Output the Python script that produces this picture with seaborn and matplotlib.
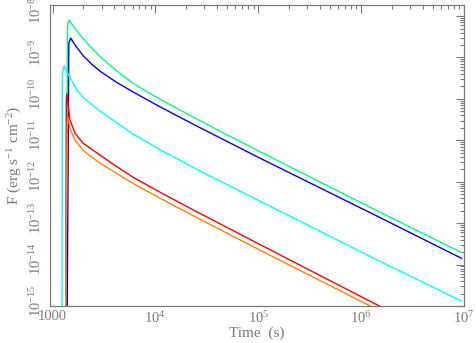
import numpy as np
import pandas as pd
import matplotlib
matplotlib.use("Agg")
import matplotlib.pyplot as plt
import matplotlib.ticker as mticker
import matplotlib.transforms as mtransforms
import seaborn as sns

# light curves: time (s) and flux F (erg s^-1 cm^-2)
green_t = [1340, 1400, 1446, 1654, 1850, 2163, 2800, 3616, 4700, 6047, 8200,
           11060, 20000, 50000, 1.5e5, 1.512e6, 9.5e6]
green_f = [1e-16, 6.0e-9, 8.0e-9, 5.0e-9, 3.48e-9, 2.23e-9, 1.14e-9, 6.55e-10,
           3.82e-10, 2.41e-10, 1.51e-10, 9.9e-11, 4.45e-11, 1.35e-11, 3.35e-12,
           1.85e-13, 1.94e-14]

blue_t = [1383, 1440, 1502, 1700, 1978, 2400, 2893, 4200, 6047, 11060, 25000,
          1e5, 1.512e6, 9.5e6]
blue_f = [1e-16, 2.2e-9, 2.94e-9, 1.82e-9, 1.12e-9, 6.92e-10, 4.68e-10,
          2.51e-10, 1.48e-10, 6.46e-11, 2.24e-11, 3.89e-12, 1.38e-13, 1.41e-14]

cyan_t = [1237, 1245, 1270, 1302, 1383, 1729, 2000, 2313, 2900, 3616, 6000,
          11060, 30000, 1e5, 1.512e6, 9.5e6]
cyan_f = [1e-16, 3.0e-10, 5.6e-10, 6.2e-10, 4.44e-10, 1.63e-10, 1.07e-10,
          7.92e-11, 5.05e-11, 3.44e-11, 1.45e-11, 5.97e-12, 1.6e-12, 3.56e-13,
          1.21e-14, 1.31e-15]

red_t = [1345, 1360, 1374, 1479, 1654, 1978, 2313, 2893, 4200, 6047, 11060,
         25000, 1e5, 1.513e6, 2e6]
red_f = [1e-16, 9e-11, 1.31e-10, 3.08e-11, 1.49e-11, 8.55e-12, 6.5e-12,
         4.4e-12, 2.33e-12, 1.29e-12, 5.61e-13, 1.91e-13, 3.2e-14, 9.9e-16, 7e-16]

orange_t = [1330, 1390, 1405, 1479, 1654, 1978, 2313, 2893, 6047, 11060, 25000,
            1e5, 1.236e6, 2e6]
orange_f = [1e-16, 2.5e-11, 3.85e-11, 1.9e-11, 1.01e-11, 5.8e-12, 4.2e-12,
            2.82e-12, 9.1e-13, 4.02e-13, 1.38e-13, 2.34e-14, 9.9e-16, 5e-16]

curve_names = ["green", "blue", "cyan", "red", "orange"]
palette = {"green": "#00ff80", "blue": "#0000ff", "cyan": "#00ffff",
           "red": "#ff0000", "orange": "#ff8000"}

curves = {"green": (green_t, green_f), "blue": (blue_t, blue_f),
          "cyan": (cyan_t, cyan_f), "red": (red_t, red_f),
          "orange": (orange_t, orange_f)}
df = pd.concat([pd.DataFrame({"time": t, "flux": f, "curve": name})
                for name, (t, f) in curves.items()], ignore_index=True)

sns.set_style("white")
plt.rcParams["font.family"] = ["Liberation Serif", "DejaVu Serif"]
plt.rcParams["mathtext.fontset"] = "custom"
plt.rcParams["mathtext.rm"] = "Liberation Serif"
plt.rcParams["mathtext.it"] = "Liberation Serif"

grey = "#7a7a7a"

fig = plt.figure(figsize=(4.77, 3.43), dpi=100)
ax = fig.add_axes([50 / 477, 37 / 343, 414 / 477, 301 / 343])

sns.lineplot(data=df, x="time", y="flux", hue="curve", hue_order=curve_names,
             palette=palette, sort=False, estimator=None, legend=False,
             linewidth=1.0, ax=ax)

ax.set_xscale("log")
ax.set_yscale("log")
ax.set_xlim(945, 1e7)
ax.set_ylim(1e-15, 1.85e-8)

ax.xaxis.set_major_locator(mticker.LogLocator(base=10))
ax.yaxis.set_major_locator(mticker.LogLocator(base=10))
ax.xaxis.set_minor_locator(mticker.LogLocator(base=10, subs=np.arange(2, 10)))
ax.yaxis.set_minor_locator(mticker.LogLocator(base=10, subs=np.arange(2, 10), numticks=20))
ax.xaxis.set_minor_formatter(mticker.NullFormatter())
ax.yaxis.set_minor_formatter(mticker.NullFormatter())


def xfmt(v, pos):
    n = int(round(np.log10(v)))
    return "1000" if n == 3 else r"$10^{%d}$" % n


ax.xaxis.set_major_formatter(mticker.FuncFormatter(xfmt))
ax.yaxis.set_major_formatter(mticker.FuncFormatter(lambda v, p: r"$10^{%d}$" % int(round(np.log10(v)))))

ax.tick_params(which="both", direction="in", top=True, right=True,
               color=grey, labelcolor=grey, labelsize=10.5, width=0.8)
ax.tick_params(which="major", length=6)
ax.tick_params(which="minor", length=3)
ax.tick_params(axis="x", pad=3)
ax.tick_params(axis="y", pad=4)

# y labels run bottom-to-top and sit a little above their ticks
shift = mtransforms.ScaledTranslation(0, 4 / 72, fig.dpi_scale_trans)
for lab in ax.get_yticklabels():
    lab.set_rotation(90)
    lab.set_va("center")
    lab.set_transform(lab.get_transform() + shift)

for s in ax.spines.values():
    s.set_color(grey)
    s.set_linewidth(0.9)

ax.set_xlabel("Time  (s)", color=grey, fontsize=11, labelpad=0)
ax.set_ylabel(r"F (erg s$^{-1}$ cm$^{-2}$)", color=grey, fontsize=11, labelpad=3)

fig.savefig("out.png", dpi=100)
